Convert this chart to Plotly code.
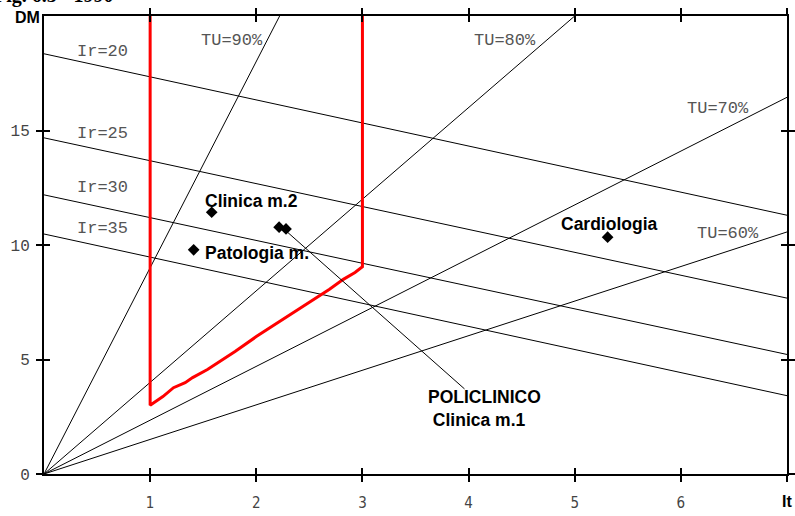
import plotly.graph_objects as go

# ---- data ----
# Occupancy rays (TU) from the origin: end points
tu_labels = ["TU=90%", "TU=80%", "TU=70%", "TU=60%"]
tu_end_x = [2.22, 5.0, 7.0, 7.0]
tu_end_y = [20.0, 20.0, 16.45, 10.57]

# Turnover (Ir) lines: values at It=0 and It=7
ir_labels = ["Ir=20", "Ir=25", "Ir=30", "Ir=35"]
ir_start_y = [18.35, 14.68, 12.19, 10.48]
ir_end_y = [11.3, 7.68, 5.22, 3.42]

# Red acceptability region outline
red_x = [1.0, 1.0, 1.12, 1.22, 1.33, 1.40, 1.54, 1.80, 2.00, 2.40, 2.69, 2.82, 2.93, 3.0, 3.0]
red_y = [20.0, 3.0, 3.38, 3.77, 3.99, 4.21, 4.56, 5.35, 6.0, 7.2, 8.07, 8.5, 8.8, 9.05, 20.0]

# Wards
ward_names = ["Clinica m.2", "Patologia m.", "POLICLINICO", "Clinica m.1", "Cardiologia"]
ward_it = [1.58, 1.41, 2.215, 2.28, 5.31]
ward_dm = [11.43, 9.79, 10.78, 10.70, 10.34]

x_ticks = [1, 2, 3, 4, 5, 6, 7]
x_ticktext = ["1", "2", "3", "4", "5", "6", ""]
y_ticks = [0, 5, 10, 15]
y_ticktext = ["0", "5", "10", "15"]

fig = go.Figure()

for lab, ex, ey in zip(tu_labels, tu_end_x, tu_end_y):
    fig.add_trace(go.Scatter(x=[0, ex], y=[0, ey], mode="lines",
                             line=dict(color="black", width=1), showlegend=False, hoverinfo="skip"))

for lab, sy, ey in zip(ir_labels, ir_start_y, ir_end_y):
    fig.add_trace(go.Scatter(x=[0, 7], y=[sy, ey], mode="lines",
                             line=dict(color="black", width=1), showlegend=False, hoverinfo="skip"))

fig.add_trace(go.Scatter(x=red_x, y=red_y, mode="lines",
                         line=dict(color="#ff0000", width=3), showlegend=False, hoverinfo="skip"))

fig.add_trace(go.Scatter(x=ward_it, y=ward_dm, mode="markers",
                         marker=dict(symbol="diamond", size=9, color="black"),
                         text=ward_names, showlegend=False))

mono = dict(family="Liberation Mono, Courier New, monospace", size=17, color="#555555")
bold = dict(family="Liberation Sans, Arial, sans-serif", size=17.5, color="black", weight="bold")

# TU labels
tu_pos = [(1.77, 18.95), (4.34, 18.95), (6.35, 15.95), (6.44, 10.52)]
for lab, (px, py) in zip(tu_labels, tu_pos):
    fig.add_annotation(x=px, y=py, text=lab, showarrow=False, font=mono,
                       xanchor="center", yanchor="middle")

# Ir labels
ir_label_y = [18.47, 14.89, 12.49, 10.70]
for lab, ly in zip(ir_labels, ir_label_y):
    fig.add_annotation(x=0.29, y=ly, text=lab, showarrow=False, font=mono,
                       xanchor="left", yanchor="middle")

# Ward labels
fig.add_annotation(x=1.50, y=11.92, text="Clinica m.2", showarrow=False, font=bold,
                   xanchor="left", yanchor="middle")
fig.add_annotation(x=1.50, y=9.65, text="Patologia m.", showarrow=False, font=bold,
                   xanchor="left", yanchor="middle")
fig.add_annotation(x=5.33, y=10.92, text="Cardiologia", showarrow=False, font=bold,
                   xanchor="center", yanchor="middle")
fig.add_annotation(x=4.15, y=2.84, text="POLICLINICO<br> Clinica m.1", showarrow=False, font=bold,
                   xanchor="center", yanchor="middle", align="left")
# leader line
fig.add_annotation(x=2.25, y=10.74, ax=3.99, ay=3.6, axref="x", ayref="y",
                   text=" ", showarrow=True, arrowhead=0, arrowwidth=1, arrowcolor="black",
                   standoff=0, startstandoff=0)

# Axis titles
axfont = dict(family="Liberation Sans, Arial", size=16, color="black", weight="bold")
fig.add_annotation(x=0, y=20, xref="x", yref="y", text="DM", showarrow=False,
                   font=axfont, xanchor="right", yanchor="middle", xshift=-2, yshift=-1)
fig.add_annotation(x=7, y=0, xref="x", yref="y", text="It", showarrow=False,
                   font=axfont, xanchor="center", yanchor="top", yshift=-17)
# clipped caption at the very top
fig.add_annotation(x=0, y=1.0, xref="paper", yref="paper", text="Fig. 6.3 - 1990", showarrow=False,
                   font=dict(family="Liberation Serif, Times New Roman", size=20, color="black", weight="bold"),
                   xanchor="left", yanchor="bottom", xshift=-52, yshift=7)

tickfont_x = dict(family="Liberation Sans Narrow, DejaVu Sans Condensed, Arial Narrow, sans-serif", size=15, color="#444444")
tickfont_y = dict(family="Liberation Mono, Courier New, monospace", size=16, color="#444444")

fig.update_layout(
    width=795, height=516,
    margin=dict(l=44, r=8, t=16, b=42),
    plot_bgcolor="white", paper_bgcolor="white",
    xaxis=dict(range=[0, 7], showgrid=False, zeroline=False, showline=True, linecolor="black",
               linewidth=2, mirror="ticks", ticks="outside", ticklen=6, tickwidth=1.5,
               tickcolor="black", tickvals=x_ticks, ticktext=x_ticktext, tickfont=tickfont_x,
               ticklabelstandoff=8, automargin=False),
    yaxis=dict(range=[0, 20], showgrid=False, zeroline=False, showline=True, linecolor="black",
               linewidth=2, mirror="ticks", ticks="outside", ticklen=6, tickwidth=1.5,
               tickcolor="black", tickvals=y_ticks, ticktext=y_ticktext, tickfont=tickfont_y,
               ticklabelstandoff=3, automargin=False),
    xaxis2=dict(range=[0, 7], overlaying="x", matches="x", showgrid=False, zeroline=False,
                showline=False, mirror="ticks", ticks="inside", ticklen=6, tickwidth=1.5,
                tickcolor="black", tickvals=x_ticks, showticklabels=False, automargin=False),
    yaxis2=dict(range=[0, 20], overlaying="y", matches="y", showgrid=False, zeroline=False,
                showline=False, mirror="ticks", ticks="inside", ticklen=6, tickwidth=1.5,
                tickcolor="black", tickvals=[0, 5, 10, 15, 20], showticklabels=False, automargin=False),
)
# dummy trace to activate the overlay axes
fig.add_trace(go.Scatter(x=[None], y=[None], xaxis="x2", yaxis="y2", showlegend=False, hoverinfo="skip"))

fig.write_html("out.html", config={"displayModeBar": False},
               post_script="document.body.style.margin='0';")
